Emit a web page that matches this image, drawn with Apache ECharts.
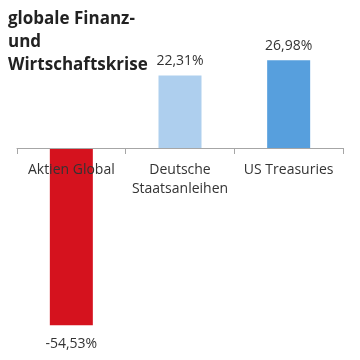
<!DOCTYPE html>
<html><head><meta charset="utf-8">
<script src="https://cdn.jsdelivr.net/npm/echarts@6/dist/echarts.min.js"></script>
<style>html,body{margin:0;padding:0;background:#fff}#c{width:360px;height:360px}</style>
</head><body><div id="c"></div>
<script>
var titleText = 'globale Finanz-\nund\nWirtschaftskrise';
var categories = ['Aktien Global', 'Deutsche\nStaatsanleihen', 'US Treasuries'];
var values = [-54.53, 22.31, 26.98];
var colors = ['#d5121e', '#aecfee', '#579fdd'];

function fmt(v){ return v.toFixed(2).replace('.', ',') + '%'; }

var chart = echarts.init(document.getElementById('c'));
chart.setOption({
  animation: false,
  title: {
    text: titleText, left: 3, top: 3,
    textStyle: { fontFamily: 'Open Sans', fontWeight: 'bold', fontSize: 17, lineHeight: 23, color: '#222' }
  },
  grid: { left: 17, right: 17, top: 50.5, height: 292.5, containLabel: false, outerBoundsMode: 'none' },
  xAxis: {
    type: 'category', data: categories, z: 10, position: 'bottom', offset: -195,
    axisLine: { onZero: false, lineStyle: { color: '#a6a6a6', width: 1 } },
    axisTick: { show: true, length: 6, lineStyle: { color: '#a6a6a6' } },
    axisLabel: { interval: 0, hideOverlap: false, margin: 13, fontFamily: 'Open Sans', fontSize: 14, lineHeight: 19, color: '#333' }
  },
  yAxis: { type: 'value', min: -60, max: 30, show: false, splitLine: { show: false } },
  series: [{
    type: 'bar', barWidth: 43,
    data: values.map(function(v, i){
      return {
        value: v,
        itemStyle: { color: colors[i] },
        label: { show: true, position: v < 0 ? 'bottom' : 'top', distance: v < 0 ? 12 : 7,
          formatter: function(p){ return fmt(p.value); },
          fontFamily: 'Open Sans', fontSize: 14, color: '#333' }
      };
    })
  }]
});
</script></body></html>
